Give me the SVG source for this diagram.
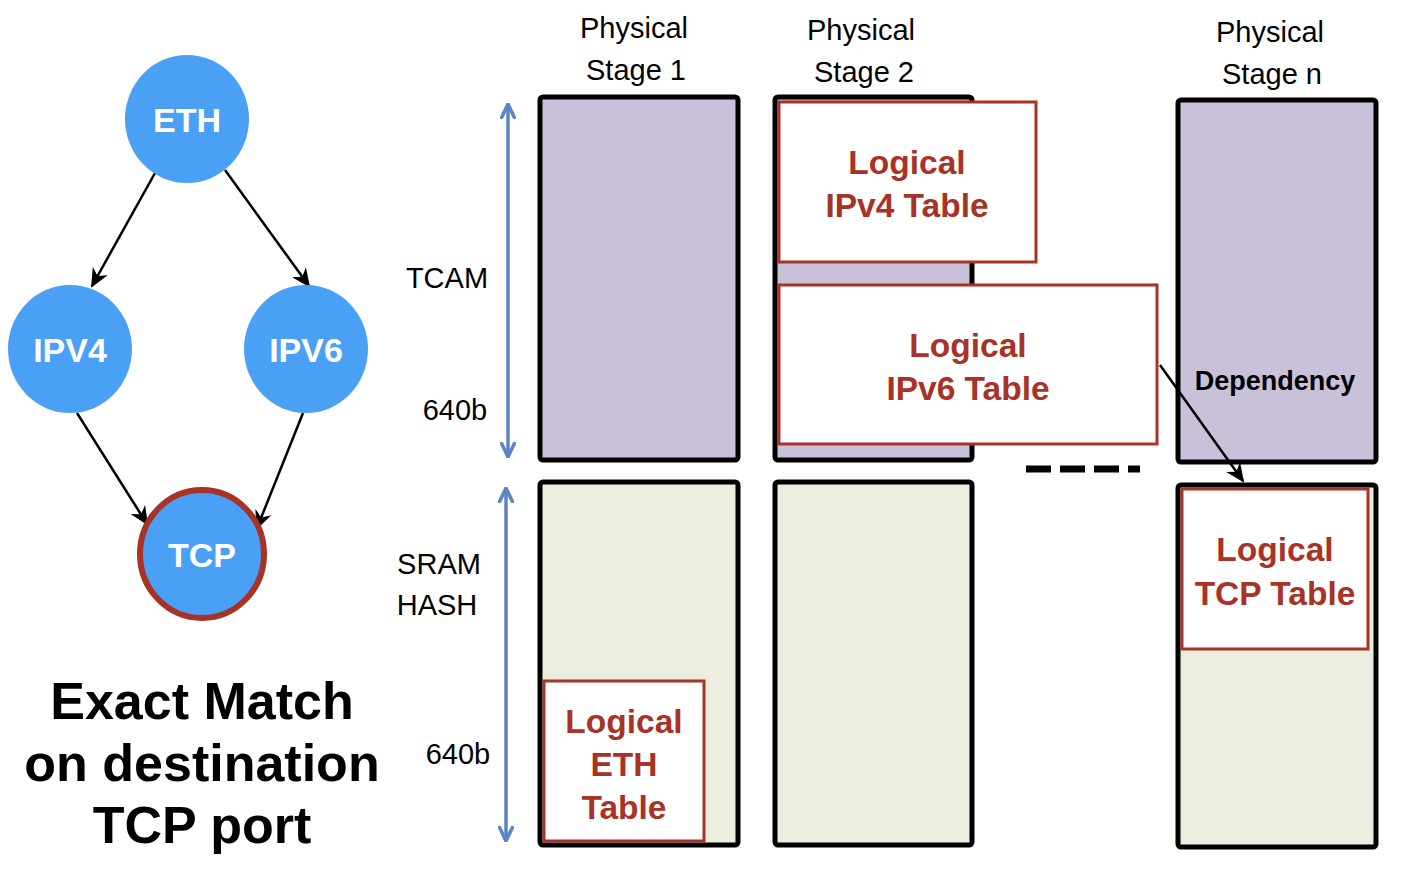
<svg xmlns="http://www.w3.org/2000/svg" width="1408" height="886" viewBox="0 0 1408 886">
<defs>
<style>
.node{fill:#4AA0F5}
.ntxt{font-family:"Liberation Sans",Arial,sans-serif;font-weight:bold;font-size:34px;fill:#fff;text-anchor:middle}
.edge{stroke:#000;stroke-width:2.5;fill:none}
.tcam{fill:#C9C0D9;stroke:#000;stroke-width:5}
.sram{fill:#EBEEDF;stroke:#000;stroke-width:5}
.logic{fill:#fff;stroke:#A93226;stroke-width:3}
.ltxt{font-family:"Liberation Sans",Arial,sans-serif;font-weight:bold;font-size:33.5px;fill:#A93226;text-anchor:middle}
.lab{font-family:"Liberation Sans",Arial,sans-serif;font-size:29px;fill:#000;text-anchor:middle}
.big{font-family:"Liberation Sans",Arial,sans-serif;font-weight:bold;font-size:52px;fill:#000;text-anchor:middle}
.dim{stroke:#5B84C4;stroke-width:3.5;fill:none}
</style>
<marker id="ah2" viewBox="0 0 10 10" refX="9.5" refY="5" markerWidth="16" markerHeight="16" markerUnits="userSpaceOnUse" orient="auto-start-reverse">
<path d="M1,1 L9.5,5 L1,9" fill="none" stroke="#5B84C4" stroke-width="2.2" stroke-linecap="round" stroke-linejoin="round"/>
</marker>
<marker id="ahs" viewBox="0 0 10 10" refX="9" refY="5" markerWidth="19" markerHeight="19" markerUnits="userSpaceOnUse" orient="auto">
<path d="M0,0.5 L10,5 L0,9.5 L3,5 z" fill="#000"/>
</marker>
</defs>
<rect width="1408" height="886" fill="#fff"/>

<g id="connectors">
<line class="edge" x1="155" y1="173" x2="92" y2="286" marker-end="url(#ahs)"/>
<line class="edge" x1="225" y1="170" x2="309" y2="286" marker-end="url(#ahs)"/>
<line class="edge" x1="77" y1="413" x2="147" y2="524" marker-end="url(#ahs)"/>
<line class="edge" x1="303" y1="413" x2="257" y2="528" marker-end="url(#ahs)"/>
</g>

<g id="node-eth"><ellipse class="node" cx="187" cy="119" rx="62" ry="64"/><text class="ntxt" x="187" y="132">ETH</text></g>
<g id="node-ipv4"><ellipse class="node" cx="70" cy="349" rx="62" ry="64"/><text class="ntxt" x="70" y="362">IPV4</text></g>
<g id="node-ipv6"><ellipse class="node" cx="306" cy="349" rx="62" ry="64"/><text class="ntxt" x="306" y="362">IPV6</text></g>
<g id="node-tcp"><ellipse class="node" cx="202" cy="554" rx="62" ry="64" stroke="#A93226" stroke-width="6"/><text class="ntxt" x="202" y="567">TCP</text></g>

<g id="caption">
<text class="big" x="202" y="719">Exact Match</text>
<text class="big" x="202" y="781">on destination</text>
<text class="big" x="202" y="843">TCP port</text>
</g>

<g id="labels">
<text class="lab" x="634" y="38">Physical</text>
<text class="lab" x="636" y="80">Stage 1</text>
<text class="lab" x="861" y="40">Physical</text>
<text class="lab" x="864" y="82">Stage 2</text>
<text class="lab" x="1270" y="42">Physical</text>
<text class="lab" x="1272" y="84">Stage n</text>
<text class="lab" x="447" y="288">TCAM</text>
<text class="lab" x="455" y="420">640b</text>
<text class="lab" x="439" y="574">SRAM</text>
<text class="lab" x="437" y="615">HASH</text>
<text class="lab" x="458" y="764">640b</text>
</g>

<g id="dims">
<line class="dim" x1="508" y1="104" x2="508" y2="457" marker-start="url(#ah2)" marker-end="url(#ah2)"/>
<line class="dim" x1="506" y1="488" x2="506" y2="841" marker-start="url(#ah2)" marker-end="url(#ah2)"/>
</g>

<g id="stage1">
<rect class="tcam" x="540" y="97" width="198" height="363" rx="3"/>
<rect class="sram" x="540" y="482" width="198" height="363" rx="3"/>
</g>
<g id="stage2">
<rect class="tcam" x="775" y="97" width="197" height="363" rx="3"/>
<rect class="sram" x="775" y="482" width="197" height="363" rx="3"/>
</g>
<g id="stagen">
<rect class="tcam" x="1178" y="100" width="198" height="362" rx="3"/>
<rect class="sram" x="1178" y="485" width="198" height="362" rx="3"/>
</g>

<g id="ipv4-table">
<rect class="logic" x="779" y="102" width="257" height="160"/>
<text class="ltxt" x="907" y="174">Logical</text>
<text class="ltxt" x="907" y="217">IPv4 Table</text>
</g>
<g id="ipv6-table">
<rect class="logic" x="779" y="285" width="378" height="159"/>
<text class="ltxt" x="968" y="357">Logical</text>
<text class="ltxt" x="968" y="400">IPv6 Table</text>
</g>
<g id="eth-table">
<rect class="logic" x="544" y="681" width="160" height="160"/>
<text class="ltxt" x="624" y="733">Logical</text>
<text class="ltxt" x="624" y="776">ETH</text>
<text class="ltxt" x="624" y="819">Table</text>
</g>
<g id="tcp-table">
<rect class="logic" x="1182" y="489" width="186" height="160"/>
<text class="ltxt" x="1275" y="561">Logical</text>
<text class="ltxt" x="1275" y="605">TCP Table</text>
</g>

<g id="ellipsis">
<line x1="1026" y1="469" x2="1140" y2="469" stroke="#000" stroke-width="7" stroke-dasharray="25 9"/>
</g>

<g id="dependency">
<text x="1275" y="390" font-family="Liberation Sans,Arial,sans-serif" font-weight="bold" font-size="27" text-anchor="middle" fill="#000">Dependency</text>
<line class="edge" x1="1160" y1="365" x2="1243" y2="481" marker-end="url(#ahs)"/>
</g>
</svg>
